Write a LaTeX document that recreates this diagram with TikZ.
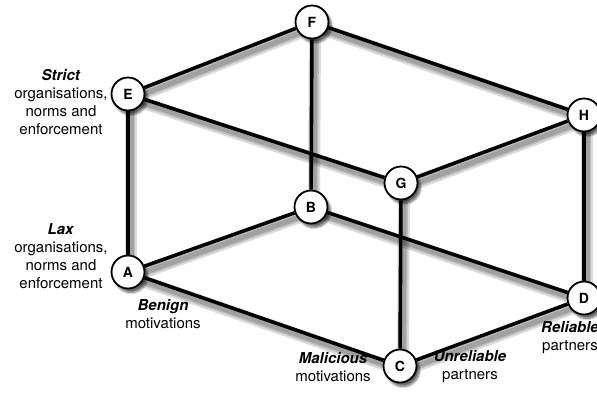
\documentclass[tikz,border=0pt]{standalone}
\usepackage{fontspec}
\setmainfont{TeX Gyre Heros}
\usetikzlibrary{shadows.blur}

\pgfdeclarelayer{background}
\pgfsetlayers{background,main}

\tikzset{
  corner/.style={circle, draw=black, line width=1.8pt, fill=white, minimum size=33pt,
    inner sep=0pt, font=\fontsize{14}{15}\selectfont\bfseries,
    blur shadow={shadow xshift=3pt, shadow yshift=-4pt, shadow blur steps=8, shadow opacity=60}},
  edge/.style={line width=3.6pt, black},
  edgeshadow/.style={line width=#1, black, opacity=0.14, transform canvas={shift={(3pt,-5pt)}}},
  caption/.style={align=center, font=\fontsize{15}{18}\selectfont}
}

\begin{document}
\begin{tikzpicture}[x=1pt, y=-1pt]
\useasboundingbox (0,0) rectangle (597,394);
\clip (0,0) rectangle (597,394);

% Cube corners
\node[corner] (A) at (128,272) {A};
\node[corner] (B) at (311,207) {B};
\node[corner] (C) at (400,366) {C};
\node[corner] (D) at (584,298) {D};
\node[corner] (E) at (128,94) {E};
\node[corner] (F) at (312,22) {F};
\node[corner] (G) at (401,183) {G};
\node[corner] (H) at (584,115) {H};

% Cube edges
\begin{pgfonlayer}{background}
\foreach \from/\to in {A/B, A/C, A/E, B/D, B/F, C/D, C/G, D/H, E/F, E/G, F/H, G/H} {
  \foreach \w in {12pt, 8pt, 5pt}
    \draw[edgeshadow=\w] (\from.center) -- (\to.center);
  \draw[edge] (\from) -- (\to);
}
\end{pgfonlayer}

% Labels
\node[caption] (strict) at (61,102) {\textbf{\textit{Strict}}\\organisations,\\norms and\\enforcement};
\node[caption] (lax) at (61,256) {\textbf{\textit{Lax}}\\organisations,\\norms and\\enforcement};
\node[caption] (benign) at (163,314) {\textbf{\textit{Benign}}\\motivations};
\node[caption] (malicious) at (333,367) {\textbf{\textit{Malicious}}\\motivations};
\node[caption] (unreliable) at (470,367) {\textbf{\textit{Unreliable}}\\partners};
\node[caption] (reliable) at (570,338) {\textbf{\textit{Reliable}}\\partners};
\end{tikzpicture}
\end{document}
